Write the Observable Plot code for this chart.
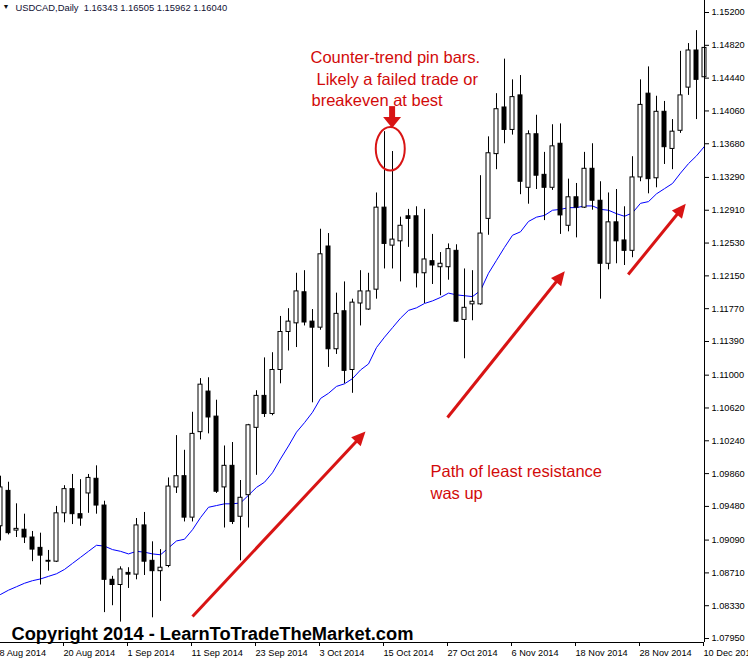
<!DOCTYPE html>
<html><head><meta charset="utf-8">
<script src="https://cdn.jsdelivr.net/npm/d3@7"></script>
<script src="https://cdn.jsdelivr.net/npm/@observablehq/plot@0.6"></script>
<style>html,body{margin:0;padding:0;background:#fff;overflow:hidden}</style>
</head><body><div id="chart"></div>
<script>
// USDCAD Daily, 8 Aug 2014 (bar 0) .. 10 Dec 2014 (bar 88)
const open = [
1.0925,1.0966,1.0920,1.0921,1.0912,1.0900,1.0885,1.0884,1.0940,1.0968,
1.0939,1.0963,1.0980,1.0949,1.0863,1.0857,1.0871,1.0869,1.0926,1.0885,
1.0873,1.0879,1.0970,1.0983,1.0935,1.1034,1.1081,1.1052,1.0970,1.0995,
1.0936,1.0961,1.1039,1.1076,1.1055,1.1106,1.1150,1.1160,1.1196,1.1162,
1.1155,1.1249,1.1130,1.1174,1.1106,1.1183,1.1176,1.1199,1.1294,1.1250,
1.1255,1.1284,1.1284,1.1218,1.1232,1.1225,1.1225,1.1244,1.1164,1.1182,
1.1182,1.1281,1.1356,1.1410,1.1384,1.1424,1.1317,1.1379,1.1332,1.1317,
1.1368,1.1273,1.1306,1.1294,1.1339,1.1302,1.1229,1.1277,1.1256,1.1244,
1.1329,1.1426,1.1328,1.1405,1.1362,1.1383,1.1433,1.1476,1.1445];
const high = [
1.0983,1.0976,1.0951,1.0939,1.0919,1.0917,1.0897,1.0948,1.0972,1.0985,
1.0979,1.0985,1.0995,1.0954,1.0867,1.0878,1.0877,1.0934,1.0941,1.0907,
1.0898,1.0981,1.1030,1.1013,1.1057,1.1096,1.1097,1.1071,1.1018,1.1022,
1.0978,1.1043,1.1082,1.1120,1.1126,1.1168,1.1177,1.1218,1.1221,1.1176,
1.1269,1.1264,1.1195,1.1208,1.1188,1.1221,1.1218,1.1311,1.1382,1.1359,
1.1283,1.1292,1.1295,1.1292,1.1263,1.1242,1.1252,1.1251,1.1223,1.1221,
1.1331,1.1376,1.1426,1.1466,1.1442,1.1447,1.1383,1.1401,1.1358,1.1390,
1.1391,1.1327,1.1322,1.1358,1.1368,1.1324,1.1311,1.1315,1.1295,1.1353,
1.1442,1.1457,1.1423,1.1417,1.1396,1.1475,1.1484,1.1499,1.1501];
const low = [
1.0908,1.0915,1.0912,1.0905,1.0884,1.0857,1.0873,1.0883,1.0929,1.0927,
1.0925,1.0940,1.0939,1.0825,1.0833,1.0814,1.0853,1.0863,1.0868,1.0819,
1.0838,1.0877,1.0963,1.0930,1.0930,1.1025,1.1032,1.0963,1.0923,1.0927,
1.0885,1.0923,1.0984,1.1051,1.1053,1.1090,1.1128,1.1132,1.1157,1.1068,
1.1152,1.1109,1.1124,1.1090,1.1079,1.1157,1.1175,1.1188,1.1223,1.1223,
1.1208,1.1248,1.1201,1.1183,1.1205,1.1192,1.1210,1.1161,1.1119,1.1163,
1.1181,1.1262,1.1338,1.1368,1.1378,1.1309,1.1298,1.1315,1.1279,1.1314,
1.1263,1.1266,1.1259,1.1293,1.1291,1.1188,1.1222,1.1229,1.1227,1.1236,
1.1324,1.1310,1.1317,1.1344,1.1338,1.1380,1.1424,1.1396,1.1434];
const close = [
1.0970,1.0917,1.0922,1.0912,1.0898,1.0891,1.0884,1.0940,1.0968,1.0939,
1.0934,1.0981,1.0949,1.0863,1.0857,1.0875,1.0869,1.0926,1.0884,1.0873,
1.0877,1.0971,1.0983,1.0935,1.1032,1.1089,1.1051,1.0965,1.0995,1.0930,
1.0958,1.1042,1.1076,1.1055,1.1106,1.1150,1.1162,1.1197,1.1161,1.1155,
1.1240,1.1130,1.1171,1.1105,1.1184,1.1197,1.1197,1.1294,1.1252,1.1257,
1.1273,1.1281,1.1218,1.1234,1.1227,1.1229,1.1246,1.1162,1.1178,1.1185,
1.1264,1.1357,1.1408,1.1384,1.1422,1.1324,1.1379,1.1331,1.1317,1.1365,
1.1285,1.1306,1.1294,1.1339,1.1302,1.1229,1.1277,1.1255,1.1244,1.1329,
1.1413,1.1327,1.1405,1.1364,1.1382,1.1424,1.1476,1.1442,1.1479];
// moving average (blue line)
const ma = [
1.0846,1.0851,1.0855,1.0859,1.0862,1.0864,1.0867,1.0870,1.0875,1.0882,
1.0889,1.0896,1.0903,1.0902,1.0898,1.0896,1.0893,1.0896,1.0895,1.0893,
1.0892,1.0900,1.0908,1.0910,1.0921,1.0935,1.0947,1.0949,1.0951,1.0951,
1.0952,1.0961,1.0970,1.0976,1.0987,1.1003,1.1018,1.1034,1.1045,1.1057,
1.1073,1.1079,1.1087,1.1090,1.1096,1.1106,1.1113,1.1132,1.1144,1.1155,
1.1166,1.1175,1.1178,1.1183,1.1186,1.1190,1.1195,1.1193,1.1192,1.1191,
1.1198,1.1218,1.1233,1.1248,1.1262,1.1266,1.1278,1.1283,1.1285,1.1291,
1.1292,1.1294,1.1294,1.1296,1.1296,1.1292,1.1291,1.1287,1.1284,1.1288,
1.1299,1.1301,1.1310,1.1316,1.1322,1.1334,1.1345,1.1354,1.1365];

const xTickIdx = [0,8,16,24,32,40,48,56,64,72,80,88];
const xTickLabels = ["8 Aug 2014","20 Aug 2014","1 Sep 2014","11 Sep 2014","23 Sep 2014","3 Oct 2014",
  "15 Oct 2014","27 Oct 2014","6 Nov 2014","18 Nov 2014","28 Nov 2014","10 Dec 2014"];
const yTicks = [1.15200,1.14820,1.14440,1.14060,1.13680,1.13290,1.12910,1.12530,1.12150,1.11770,
  1.11390,1.11000,1.10620,1.10240,1.09860,1.09480,1.09090,1.08710,1.08330,1.07950];
const yDomain = [1.07904, 1.15339];

const headerText = "USDCAD,Daily\u00a0\u00a01.16343 1.16505 1.15962 1.16040";
const copyrightText = "Copyright 2014 - LearnToTradeTheMarket.com";

// annotations (bar index, price)
const notes = [
  {text: "Counter-trend pin bars.", x: 38.75, y: 1.14615},
  {text: "Likely a failed trade or", x: 39.5, y: 1.14366},
  {text: "breakeven at best", x: 38.875, y: 1.14117},
  {text: "Path of least resistance", x: 53.75, y: 1.09826},
  {text: "was up", x: 53.75, y: 1.09571}
];
const arrows = [
  {x1: 24.0, y1: 1.08205, x2: 44.94, y2: 1.10279, tx: 45.625, ty: 1.10347, angle: 43.1},
  {x1: 55.875, y1: 1.1051, x2: 69.95, y2: 1.12137, tx: 70.54, ty: 1.12204, angle: 38.7},
  {x1: 78.46, y1: 1.12166, x2: 85.07, y2: 1.12918, tx: 85.66, ty: 1.12985, angle: 39.2}
];
const downArrow = {x: 48.95, y1: 1.1411, y2: 1.1397, tx: 48.95, ty: 1.13862};
const ring = {x: 48.72, y: 1.13622};

const bars = open.map((o, i) => ({i, open: o, high: high[i], low: low[i], close: close[i], ma: ma[i]}));
const up = bars.filter(d => d.close >= d.open);
const down = bars.filter(d => d.close < d.open);

const RED = "#d81414";
const TEXTRED = "#d20a0a";
const FONT = "'Liberation Sans', Arial, sans-serif";

function headSymbol(w, l) {
  return {draw(ctx) { ctx.moveTo(0, 0); ctx.lineTo(w / 2, l); ctx.lineTo(-w / 2, l); ctx.closePath(); }};
}
function ellipseSymbol(rx, ry) {
  const k = 0.5523;
  return {draw(ctx) {
    ctx.moveTo(rx, 0);
    ctx.bezierCurveTo(rx, k * ry, k * rx, ry, 0, ry);
    ctx.bezierCurveTo(-k * rx, ry, -rx, k * ry, -rx, 0);
    ctx.bezierCurveTo(-rx, -k * ry, -k * rx, -ry, 0, -ry);
    ctx.bezierCurveTo(k * rx, -ry, rx, -k * ry, rx, 0);
    ctx.closePath();
  }};
}

const chart = Plot.plot({
  width: 748,
  height: 661,
  marginLeft: 0,
  marginRight: 44,
  marginTop: 0,
  marginBottom: 19,
  style: {fontFamily: FONT, fontSize: "9.2px", background: "white", color: "black"},
  x: {domain: [0, open.length - 1], axis: null},
  y: {domain: yDomain, axis: null},
  marks: [
    Plot.line(bars, {x: "i", y: "ma", stroke: "#0000ff", strokeWidth: 1}),
    Plot.ruleX(bars, {x: "i", y1: "low", y2: "high", stroke: "black", strokeWidth: 1}),
    Plot.rect(up, {x1: d => d.i - 0.25, x2: d => d.i + 0.25, y1: "open", y2: "close", fill: "white", stroke: "black", strokeWidth: 1}),
    Plot.rect(down, {x1: d => d.i - 0.25, x2: d => d.i + 0.25, y1: "open", y2: "close", fill: "black", stroke: "black", strokeWidth: 1}),
    // annotations
    Plot.link(arrows, {x1: "x1", y1: "y1", x2: "x2", y2: "y2", stroke: RED, strokeWidth: 3}),
    Plot.dot(arrows, {x: "tx", y: "ty", rotate: "angle", symbol: headSymbol(13, 14), fill: RED, stroke: "none"}),
    Plot.ruleX([downArrow], {x: "x", y1: "y1", y2: "y2", stroke: RED, strokeWidth: 6}),
    Plot.dot([downArrow], {x: "tx", y: "ty", rotate: 180, symbol: headSymbol(18, 11), fill: RED, stroke: "none"}),
    Plot.dot([ring], {x: "x", y: "y", symbol: ellipseSymbol(14.5, 21.7), fill: "none", stroke: RED, strokeWidth: 2}),
    Plot.text(notes, {x: "x", y: "y", text: "text", textAnchor: "start", lineAnchor: "bottom", fill: TEXTRED, fontSize: 16.5, fontFamily: FONT}),
    Plot.text([copyrightText], {text: d => d, frameAnchor: "bottom-left", dx: 11, dy: -2.7, textAnchor: "start", lineAnchor: "bottom", fontSize: 18.3, fontWeight: "bold", fill: "black", fontFamily: FONT}),
    // header
    Plot.text(["\u25BC"], {text: d => d, frameAnchor: "top-left", dx: 5.5, dy: 6.5, textAnchor: "middle", lineAnchor: "middle", fontSize: 7, fill: "#111"}),
    Plot.text([headerText], {text: d => d, frameAnchor: "top-left", dx: 15, dy: 4, textAnchor: "start", lineAnchor: "top", fontSize: 9.4, fill: "#111133"}),
    // axes
    Plot.ruleX([open.length - 1], {stroke: "black"}),
    Plot.ruleY([yDomain[0]], {stroke: "black"}),
    Plot.axisY({anchor: "right", ticks: yTicks, tickFormat: d => d.toFixed(5), tickSize: 4, tickPadding: 3, label: null}),
    Plot.axisX({ticks: xTickIdx, tickFormat: d => xTickLabels[xTickIdx.indexOf(d)], tickSize: 4, tickPadding: 2.5, textAnchor: "start", dx: -1, label: null})
  ]
});
document.getElementById("chart").appendChild(chart);
</script>
</body></html>
